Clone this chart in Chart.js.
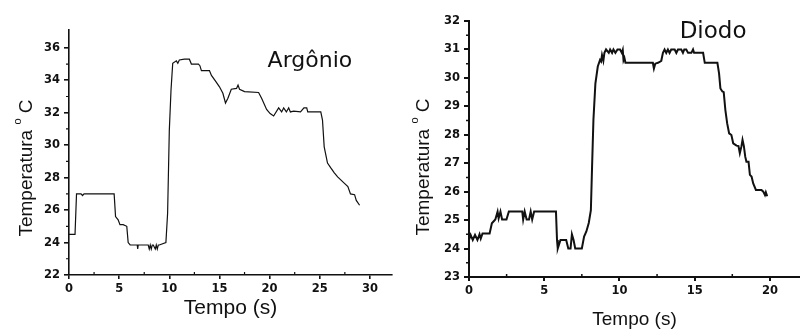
<!DOCTYPE html>
<html>
<head>
<meta charset="utf-8">
<script src="https://cdn.jsdelivr.net/npm/chart.js@4/dist/chart.umd.min.js"></script>
<style>
  body { margin: 0; background: #fff; }
  .row { display: flex; width: 800px; height: 331px; }
  canvas { display: block; }
</style>
</head>
<body>
<div class="row">
  <canvas id="argonioChart" width="400" height="331"></canvas>
  <canvas id="diodoChart" width="400" height="331"></canvas>
</div>
<script>
// Argônio run (left panel)
const argonioTime = [0, 0.6, 0.75, 1.2, 1.35, 1.5, 4.5, 4.64, 4.9, 5.08, 5.4, 5.76, 5.9, 6.1, 6.8, 6.85, 6.9,
  7.9, 8.0, 8.1, 8.2, 8.3, 8.4, 8.6, 8.7, 8.8, 8.9, 9.0, 9.66, 9.83, 10.0, 10.17, 10.34, 10.7, 10.85, 11.0,
  11.5, 12.0, 12.2, 12.9, 13.05, 13.2, 14.0, 14.2, 14.66, 15.0, 15.34, 15.6, 15.84, 16.18, 16.7, 16.85, 17.0,
  17.5, 18.9, 19.2, 19.7, 20.05, 20.4, 20.9, 21.2, 21.4, 21.67, 21.9, 22.07, 22.4, 23.08, 23.42, 23.7, 23.8,
  25.1, 25.27, 25.44, 25.77, 26.1, 26.45, 26.78, 27.12, 27.46, 27.8, 28.06, 28.47, 28.64, 28.97];
const argonioTemp = [24.5, 24.5, 27.0, 27.0, 26.9, 27.0, 27.0, 25.6, 25.4, 25.1, 25.1, 25.0, 24.0, 23.85, 23.85, 23.6, 23.85,
  23.85, 23.6, 23.85, 23.6, 23.85, 23.85, 23.6, 23.85, 23.6, 23.85, 23.85, 24.0, 25.8, 30.9, 33.4, 35.05, 35.2, 35.05, 35.25,
  35.3, 35.3, 35.0, 35.0, 34.9, 34.6, 34.6, 34.3, 33.9, 33.6, 33.2, 32.6, 32.9, 33.45, 33.5, 33.7, 33.45,
  33.3, 33.25, 32.9, 32.2, 31.95, 31.8, 32.3, 32.05, 32.3, 32.05, 32.3, 32.05, 32.1, 32.05, 32.3, 32.3, 32.05,
  32.05, 31.55, 29.9, 28.9, 28.6, 28.3, 28.05, 27.85, 27.65, 27.45, 27.0, 26.95, 26.6, 26.3];
const argonioXTicks = [0, 5, 10, 15, 20, 25, 30];
const argonioYTicks = [22, 24, 26, 28, 30, 32, 34, 36];

// Diodo run (right panel)
const diodoTime = [0, 0.11, 0.25, 0.4, 0.56, 0.7, 0.78, 0.9, 1.37, 1.52, 1.75, 1.9, 1.97, 2.09, 2.2, 2.49, 2.65,
  3.54, 3.6, 3.7, 3.83, 3.99, 4.1, 4.2, 4.33, 5.78, 5.85, 5.9, 6.08, 6.46, 6.6, 6.75, 6.84, 6.95, 7.06, 7.5,
  7.65, 7.8, 7.96, 8.1, 8.18, 8.27, 8.4, 8.56, 8.71, 8.78, 8.84, 8.93, 9.0, 9.11, 9.29, 9.38, 9.51, 9.6, 9.73,
  9.87, 10.04, 10.16, 10.22, 10.27, 10.33, 10.4, 12.22, 12.29, 12.38, 12.56, 12.67, 12.78, 12.89, 13.0, 13.11,
  13.22, 13.33, 13.44, 13.67, 13.78, 13.89, 14.11, 14.22, 14.31, 14.44, 14.56, 14.78, 14.89, 14.96, 15.56,
  15.67, 16.51, 16.62, 16.71, 16.84, 16.93, 17.04, 17.16, 17.29, 17.44, 17.56, 17.78, 17.91, 18.0, 18.11,
  18.18, 18.27, 18.36, 18.44, 18.58, 18.67, 18.78, 18.89, 19.07, 19.44, 19.56, 19.67, 19.73, 19.82];
const diodoTemp = [24.3, 24.48, 24.3, 24.48, 24.3, 24.5, 24.35, 24.53, 24.53, 24.89, 25.02, 25.3, 25.06, 25.3, 25.02, 25.02, 25.3,
  25.3, 25.02, 25.3, 25.02, 25.02, 25.3, 25.02, 25.3, 25.3, 24.3, 24.0, 24.3, 24.3, 24.0, 24.0, 24.5, 24.3, 24.0, 24.0,
  24.42, 24.6, 24.9, 25.35, 26.88, 28.52, 29.8, 30.4, 30.63, 30.58, 30.8, 30.6, 30.88, 31.0, 30.88, 31.0, 30.88, 31.0, 30.88,
  31.0, 31.0, 30.88, 30.98, 30.62, 30.7, 30.53, 30.53, 30.33, 30.5, 30.53, 30.56, 30.6, 30.88, 31.0, 30.88,
  31.0, 30.88, 31.0, 31.0, 30.88, 31.0, 31.0, 30.88, 31.0, 31.0, 30.88, 30.88, 31.0, 30.88, 30.88,
  30.53, 30.53, 30.16, 29.63, 29.52, 29.5, 28.87, 28.4, 28.05, 27.99, 27.7, 27.62, 27.6, 27.35, 27.6,
  27.82, 27.6, 27.23, 27.05, 27.05, 26.59, 26.53, 26.29, 26.06, 26.06, 26.0, 25.88, 25.98, 25.84];
const diodoXTicks = [0, 5, 10, 15, 20];
const diodoYTicks = [23, 24, 25, 26, 27, 28, 29, 30, 31, 32];

const ink = '#111';

// minor ticks, rotated y title with superscript, panel label
const paperDecor = {
  id: 'paperDecor',
  afterDraw(chart, args, opts) {
    const ctx = chart.ctx;
    const xs = chart.scales.x, ys = chart.scales.y;
    ctx.save();
    ctx.strokeStyle = ink;
    ctx.lineWidth = opts.tickWidth;
    // minor ticks halfway between the labelled ones
    const xt = xs.ticks.map(t => t.value), yt = ys.ticks.map(t => t.value);
    ctx.beginPath();
    for (let i = 0; i < xt.length; i++) {
      const v = i < xt.length - 1 ? (xt[i] + xt[i + 1]) / 2 : xt[i] + (xt[1] - xt[0]) / 2;
      if (v > xs.max) continue;
      const px = xs.getPixelForValue(v);
      ctx.moveTo(px, xs.top); ctx.lineTo(px, xs.top - 3);
    }
    for (let i = 0; i < yt.length - 1; i++) {
      const py = ys.getPixelForValue((yt[i] + yt[i + 1]) / 2);
      ctx.moveTo(ys.right, py); ctx.lineTo(ys.right - 3, py);
    }
    ctx.stroke();

    // y title: "Temperatura °C" with raised o
    ctx.fillStyle = ink;
    ctx.translate(opts.titleX, opts.titleY);
    ctx.rotate(-Math.PI / 2);
    ctx.textBaseline = 'alphabetic';
    const big = opts.titleSize + 'px "Liberation Sans", Arial, sans-serif';
    const small = Math.round(opts.titleSize * 0.6) + 'px "Liberation Sans", Arial, sans-serif';
    ctx.font = big;
    const w1 = ctx.measureText('Temperatura ').width;
    const w3 = ctx.measureText(' C').width;
    ctx.font = small;
    const w2 = ctx.measureText('o').width;
    let x = -(w1 + w2 + w3) / 2;
    const base = opts.titleSize * 0.36;
    ctx.font = big;
    ctx.fillText('Temperatura ', x, base);
    ctx.font = small;
    ctx.fillText('o', x + w1, base - opts.titleSize * 0.55);
    ctx.font = big;
    ctx.fillText(' C', x + w1 + w2, base);
    ctx.restore();

    // panel name placed in data coordinates
    ctx.save();
    ctx.fillStyle = ink;
    ctx.font = opts.labelSize + 'px "DejaVu Sans", sans-serif';
    ctx.textAlign = 'left';
    ctx.textBaseline = 'alphabetic';
    ctx.fillText(opts.label, xs.getPixelForValue(opts.labelAt[0]), ys.getPixelForValue(opts.labelAt[1]));
    ctx.restore();
  }
};

function makeChart(id, time, temp, xTicks, yTicks, cfg) {
  const points = time.map((t, i) => ({ x: t, y: temp[i] }));
  const tickFont = { family: '"DejaVu Sans", sans-serif', size: 11.5, weight: 'bold' };
  return new Chart(document.getElementById(id), {
    type: 'line',
    data: {
      datasets: [{
        data: points,
        borderColor: ink,
        borderWidth: cfg.lineWidth,
        pointRadius: 0,
        tension: 0,
        fill: false
      }]
    },
    options: {
      responsive: false,
      animation: false,
      layout: { padding: { top: cfg.top, right: cfg.right, left: 0, bottom: 0 } },
      plugins: {
        legend: { display: false },
        tooltip: { enabled: false },
        paperDecor: cfg.decor
      },
      scales: {
        x: {
          type: 'linear',
          min: 0,
          max: cfg.xMax,
          afterBuildTicks: s => { s.ticks = xTicks.map(v => ({ value: v })); },
          afterFit: s => { s.height = cfg.xHeight; },
          border: { color: ink, width: cfg.axisWidth },
          grid: { drawOnChartArea: false, color: ink, tickLength: 4, lineWidth: cfg.axisWidth },
          ticks: { color: ink, font: tickFont, padding: 3, maxRotation: 0 },
          title: {
            display: true,
            text: 'Tempo (s)',
            color: ink,
            font: { family: '"Liberation Sans", Arial, sans-serif', size: cfg.xTitleSize },
            padding: { top: 0, bottom: cfg.xTitlePad }
          }
        },
        y: {
          min: yTicks[0],
          max: cfg.yMax,
          afterBuildTicks: s => { s.ticks = yTicks.map(v => ({ value: v })); },
          afterFit: s => { s.width = 69; },
          border: { color: ink, width: cfg.axisWidth },
          grid: { drawOnChartArea: false, color: ink, tickLength: 5, lineWidth: cfg.axisWidth },
          ticks: { color: ink, font: tickFont, padding: 4 }
        }
      }
    },
    plugins: [paperDecor]
  });
}

makeChart('argonioChart', argonioTime, argonioTemp, argonioXTicks, argonioYTicks, {
  lineWidth: 1.2, axisWidth: 1.6, top: 30, right: 8, xMax: 32.2, yMax: 37.1, xHeight: 56,
  xTitleSize: 21, xTitlePad: 10,
  decor: { tickWidth: 1.2, titleX: 25, titleY: 168, titleSize: 19, label: 'Argônio', labelSize: 22,
    labelAt: [19.8, 34.8] }
});

makeChart('diodoChart', diodoTime, diodoTemp, diodoXTicks, diodoYTicks, {
  lineWidth: 2, axisWidth: 2, top: 21, right: 0, xMax: 22, yMax: 32, xHeight: 54,
  xTitleSize: 19, xTitlePad: 0,
  decor: { tickWidth: 1.5, titleX: 22, titleY: 167, titleSize: 19, label: 'Diodo', labelSize: 23,
    labelAt: [14.0, 31.4] }
});
</script>
</body>
</html>
